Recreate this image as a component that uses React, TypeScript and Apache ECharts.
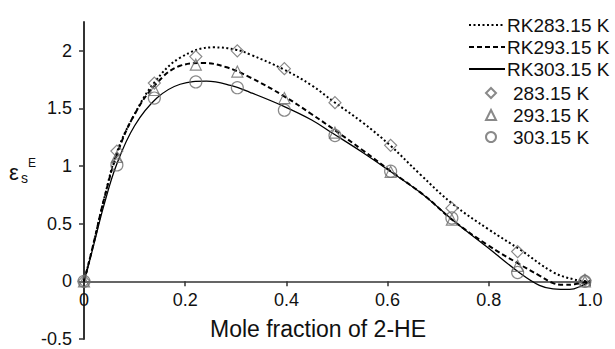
import React, { useEffect, useRef } from "react";
import * as echarts from "echarts";

const xTickLabels = ["0", "0.2", "0.4", "0.6", "0.8", "1.0"];
const xTickValues = [0, 0.2, 0.4, 0.6, 0.8, 1.0];
const yTickValues = [-0.5, 0, 0.5, 1, 1.5, 2];

const expX = [0, 0.065, 0.139, 0.221, 0.303, 0.396, 0.496, 0.606, 0.727, 0.857, 0.99];
const exp283 = [0, 1.13, 1.72, 1.95, 2.0, 1.845, 1.55, 1.18, 0.635, 0.258, 0.01];
const exp293 = [0, 1.08, 1.66, 1.88, 1.82, 1.59, 1.29, 0.95, 0.535, 0.135, 0];
const exp303 = [0, 1.01, 1.59, 1.73, 1.68, 1.485, 1.265, 0.955, 0.55, 0.077, 0];

const rk283X = [0, 0.01, 0.02, 0.04, 0.065, 0.1, 0.14, 0.19, 0.256, 0.3, 0.33, 0.394, 0.45, 0.493, 0.55, 0.605, 0.664, 0.729, 0.8, 0.862, 0.927, 0.97, 1.0];
const rk283Y = [0, 0.17, 0.35, 0.72, 1.12, 1.45, 1.73, 1.94, 2.03, 2.01, 1.965, 1.84, 1.7, 1.56, 1.38, 1.18, 0.93, 0.67, 0.45, 0.275, 0.08, 0.015, 0];

const rk293X = [0, 0.01, 0.02, 0.04, 0.065, 0.1, 0.144, 0.19, 0.236, 0.28, 0.328, 0.394, 0.45, 0.493, 0.55, 0.605, 0.671, 0.729, 0.796, 0.862, 0.9, 0.927, 0.947, 0.97, 1.0];
const rk293Y = [0, 0.17, 0.35, 0.72, 1.1, 1.45, 1.72, 1.87, 1.894, 1.86, 1.77, 1.61, 1.45, 1.32, 1.14, 0.96, 0.75, 0.53, 0.32, 0.145, 0.05, -0.015, -0.03, -0.025, 0];

const rk303X = [0, 0.01, 0.02, 0.04, 0.065, 0.1, 0.144, 0.19, 0.242, 0.29, 0.328, 0.394, 0.45, 0.493, 0.55, 0.605, 0.671, 0.729, 0.796, 0.862, 0.9, 0.927, 0.96, 0.985, 1.0];
const rk303Y = [0, 0.16, 0.33, 0.67, 1.02, 1.35, 1.59, 1.71, 1.737, 1.7, 1.64, 1.52, 1.4, 1.28, 1.12, 0.955, 0.75, 0.53, 0.3, 0.07, -0.035, -0.065, -0.07, -0.035, 0];

const lineNames = ["RK283.15 K", "RK293.15 K", "RK303.15 K"];
const pointNames = ["283.15 K", "293.15 K", "303.15 K"];

const zip = (xs: number[], ys: number[]) => xs.map((x, i) => [x, ys[i]]);

const FONT = "Liberation Sans, Arial, sans-serif";
const AXIS = "#333";
const MARK = "#6b6b6b";
const TXT = "#111";

const GRID_TOP = 22;
const GRID_BOTTOM = 10;
const CHART_H = 349;
const Y_MIN = -0.5;
const Y_MAX = 2.25;

export default function App() {
  const ref = useRef<HTMLDivElement>(null);
  useEffect(() => {
    if (!ref.current) return;
    const chart = echarts.init(ref.current, undefined, { renderer: "svg" });
    const markerStyle = { color: "transparent", borderColor: MARK, borderWidth: 1.2 };
    const gridH = CHART_H - GRID_TOP - GRID_BOTTOM;
    // move the x axis (line, ticks, labels, name) up so it sits at y = 0
    const zeroOffset = -gridH * ((0 - Y_MIN) / (Y_MAX - Y_MIN));
    chart.setOption({
      animation: false,
      backgroundColor: "#fff",
      grid: { left: 84, right: 25, top: GRID_TOP, bottom: GRID_BOTTOM, containLabel: false, outerBoundsMode: "none" },
      xAxis: {
        type: "value",
        min: 0,
        max: 1,
        interval: 0.2,
        position: "bottom",
        offset: zeroOffset,
        axisLine: { onZero: false, lineStyle: { color: AXIS, width: 1.5 } },
        axisTick: { show: true, inside: false, length: 5, lineStyle: { color: AXIS, width: 1.5 } },
        splitLine: { show: false },
        axisLabel: {
          margin: 10,
          fontSize: 18,
          fontFamily: FONT,
          color: TXT,
          formatter: (v: number) => {
            const i = xTickValues.findIndex((t) => Math.abs(t - v) < 1e-6);
            return i >= 0 ? xTickLabels[i] : "";
          },
        },
        name: "Mole fraction of 2-HE",
        nameLocation: "middle",
        nameGap: 36,
        nameTextStyle: { fontSize: 23, fontFamily: FONT, color: TXT, padding: [0, 38, 0, 0] },
      },
      yAxis: {
        type: "value",
        min: Y_MIN,
        max: Y_MAX,
        interval: 0.5,
        axisLine: { show: true, onZero: false, lineStyle: { color: AXIS, width: 2 } },
        axisTick: { show: true, length: 5, customValues: yTickValues, lineStyle: { color: AXIS, width: 1.5 } },
        splitLine: { show: false },
        axisLabel: {
          margin: 12,
          fontSize: 18,
          lineHeight: 15,
          fontFamily: FONT,
          color: TXT,
          customValues: yTickValues,
          formatter: (v: number) => String(v),
        },
      },
      legend: [
        {
          data: lineNames,
          orient: "vertical",
          left: 468,
          top: 14,
          padding: 0,
          itemWidth: 36,
          itemHeight: 10,
          itemGap: 0,
          itemStyle: { color: "transparent", borderColor: "transparent", borderWidth: 0, opacity: 0 },
          textStyle: { fontSize: 19, lineHeight: 22, fontFamily: FONT, color: TXT, padding: [0, 0, 0, -3] },
        },
        {
          data: pointNames,
          orient: "vertical",
          left: 485,
          top: 82,
          padding: 0,
          itemWidth: 10,
          itemHeight: 10,
          itemGap: 0,
          symbolKeepAspect: true,
          textStyle: { fontSize: 19, lineHeight: 22, fontFamily: FONT, color: TXT, padding: [0, 0, 0, 12] },
        },
      ],
      graphic: [
        {
          type: "text",
          style: { x: 9, y: 172, text: "ε", fontSize: 22, fontFamily: FONT, fill: TXT, textVerticalAlign: "middle" },
        },
        {
          type: "text",
          style: { x: 21, y: 177.5, text: "s", fontSize: 14, fontFamily: FONT, fill: TXT, textVerticalAlign: "middle" },
        },
        {
          type: "text",
          style: { x: 28, y: 162.5, text: "E", fontSize: 12, fontFamily: FONT, fill: TXT, textVerticalAlign: "middle" },
        },
      ],
      series: [
        {
          name: lineNames[0],
          type: "line",
          smooth: 0.4,
          symbol: "none",
          data: zip(rk283X, rk283Y),
          lineStyle: { color: "#000", width: 2, type: [2, 2.5] },
          itemStyle: { color: "#000" },
          z: 2,
        },
        {
          name: lineNames[1],
          type: "line",
          smooth: 0.4,
          symbol: "none",
          data: zip(rk293X, rk293Y),
          lineStyle: { color: "#000", width: 2, type: [5, 3] },
          itemStyle: { color: "#000" },
          z: 2,
        },
        {
          name: lineNames[2],
          type: "line",
          smooth: 0.4,
          symbol: "none",
          data: zip(rk303X, rk303Y),
          lineStyle: { color: "#000", width: 1.3, type: "solid" },
          itemStyle: { color: "#000" },
          z: 2,
        },
        {
          name: pointNames[0],
          type: "scatter",
          symbol: "diamond",
          symbolSize: 12,
          symbolKeepAspect: true,
          data: zip(expX, exp283),
          itemStyle: markerStyle,
          z: 3,
        },
        {
          name: pointNames[1],
          type: "scatter",
          symbol: "triangle",
          symbolSize: 11,
          symbolKeepAspect: true,
          data: zip(expX, exp293),
          itemStyle: markerStyle,
          z: 3,
        },
        {
          name: pointNames[2],
          type: "scatter",
          symbol: "circle",
          symbolSize: 12,
          symbolKeepAspect: true,
          data: zip(expX, exp303),
          itemStyle: markerStyle,
          z: 3,
        },
      ],
    });
    return () => chart.dispose();
  }, []);
  return <div ref={ref} style={{ width: 615, height: 349, position: "fixed", left: 0, top: 0 }} />;
}
